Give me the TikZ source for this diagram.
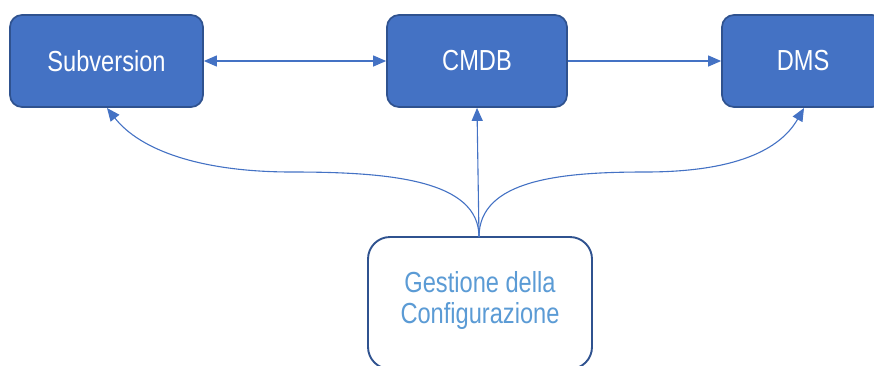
\documentclass[tikz,border=0pt]{standalone}
\usepackage{fontspec}
\setmainfont{Liberation Sans}
\newfontfamily\narrowsans[FakeStretch=0.815]{Liberation Sans}
\usetikzlibrary{arrows.meta}
\definecolor{boxfill}{HTML}{4472C4}
\definecolor{boxline}{HTML}{2F528F}
\definecolor{lighttext}{HTML}{5B9BD5}
\tikzset{
  bluebox/.style={draw=boxline, line width=1.7pt, fill=boxfill, rounded corners=12pt,
    text=white, font=\narrowsans\fontsize{29}{31}\selectfont, inner sep=0pt},
  whitebox/.style={draw=boxline, line width=1.9pt, fill=white, rounded corners=22pt, inner sep=0pt},
  conn/.style={draw=boxfill, line width=1.1pt, -{Triangle[length=13pt,width=11pt]}},
  conn2/.style={draw=boxfill, line width=1.1pt, {Triangle[length=13pt,width=11pt]}-{Triangle[length=13pt,width=11pt]}}
}
\begin{document}
\begin{tikzpicture}[x=1pt,y=-1pt]
\useasboundingbox (0,0) rectangle (874,365);
\clip (0,0) rectangle (874,365);
\node[bluebox, minimum width=193pt, minimum height=92pt] (sv) at (106.5,61) {Subversion};
\node[bluebox, minimum width=180pt, minimum height=92pt] (cm) at (477,61) {CMDB};
\node[bluebox, minimum width=162pt, minimum height=92pt] (dms) at (803,61) {DMS};
\node[whitebox, minimum width=224pt, minimum height=132pt] (gc) at (480,303) {};
\node[text=lighttext, font=\narrowsans\fontsize{29}{31}\selectfont, align=center, inner sep=0pt] (gct) at (480,300) {Gestione della\\Configurazione};
\coordinate (src) at (479,237);
\draw[conn2] (sv.east) -- (cm.west);
\draw[conn] (cm.east) -- (dms.west);
\draw[conn] (src) -- (cm.south);
\coordinate (svin) at (107,108);
\coordinate (dmsin) at (804,108);
\draw[conn] (src) .. controls (479,180) and (390,172) .. (292,172) .. controls (200,172) and (140,150) .. (svin);
\draw[conn] (src) .. controls (479,180) and (560,172) .. (645,172) .. controls (735,172) and (780,150) .. (dmsin);
\end{tikzpicture}
\end{document}
